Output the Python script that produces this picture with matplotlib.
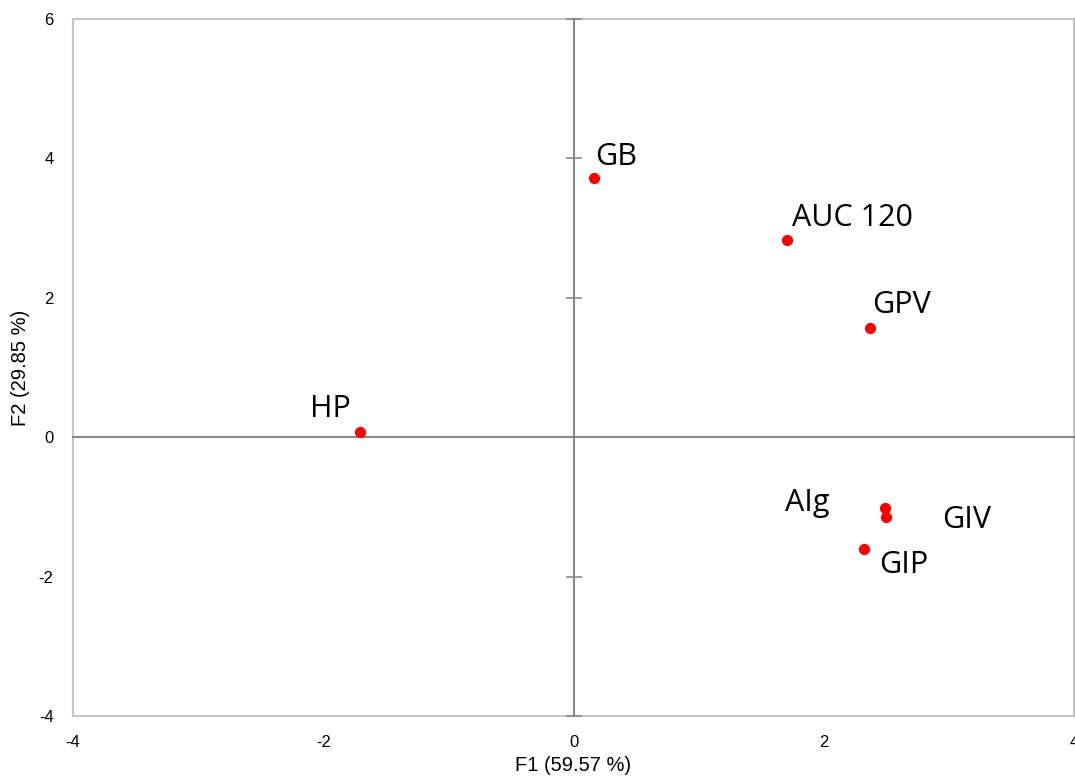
import matplotlib
matplotlib.use('Agg')
import matplotlib.pyplot as plt

plt.rcParams['axes.unicode_minus'] = False

# observations projected on F1/F2
names = ['GB', 'AUC 120', 'GPV', 'HP', 'AIg', 'GIV', 'GIP']
f1 = [0.16, 1.71, 2.37, -1.71, 2.49, 2.50, 2.32]
f2 = [3.72, 2.83, 1.56, 0.07, -1.01, -1.15, -1.61]
# where each label sits (data coords)
lab_x = [0.34, 2.23, 2.62, -1.94, 1.87, 3.14, 2.64]
lab_y = [4.02, 3.14, 1.89, 0.40, -0.95, -1.19, -1.84]

xticks = [-4, -2, 0, 2, 4]
yticks = [-4, -2, 0, 2, 4, 6]

fig = plt.figure(figsize=(10.75, 7.81), dpi=100)
pos = [73 / 1075, 1 - 716 / 781, 1001 / 1075, 697 / 781]

# frame + tick labels
ax2 = fig.add_axes(pos)
ax2.set_xlim(-4, 4)
ax2.set_ylim(-4, 6)
ax2.set_xticks(xticks)
ax2.set_yticks(yticks)
ax2.tick_params(length=0, labelsize=12, pad=14)
for lab in ax2.get_xticklabels() + ax2.get_yticklabels():
    lab.set_family('Liberation Sans')
for s in ax2.spines.values():
    s.set_color('#c4c4c4')
    s.set_linewidth(1.5)
ax2.set_xlabel('F1 (59.57 %)', fontsize=14.5, family='Liberation Sans', labelpad=4)
ax2.set_ylabel('F2 (29.85 %)', fontsize=14.5, family='Liberation Sans', labelpad=6)

# zero axes, ticks only on the vertical one
ax = fig.add_axes(pos, sharex=ax2, sharey=ax2)
ax.patch.set_visible(False)
ax.spines['left'].set_position(('data', 0))
ax.spines['bottom'].set_position(('data', 0))
ax.spines['top'].set_visible(False)
ax.spines['right'].set_visible(False)
for s in ['left', 'bottom']:
    ax.spines[s].set_color('#888888')
    ax.spines[s].set_linewidth(1.5)
ax.tick_params(axis='y', direction='inout', length=12, width=1.2, color='#888888',
               labelleft=False)
ax.tick_params(axis='x', length=0, labelbottom=False)

ax.scatter(f1, f2, s=50, color='#ff0000', zorder=3)
for n, x, y in zip(names, lab_x, lab_y):
    ax.text(x, y, n, fontsize=22, family='Open Sans', ha='center', va='center')

fig.savefig('out.png', dpi=100)
